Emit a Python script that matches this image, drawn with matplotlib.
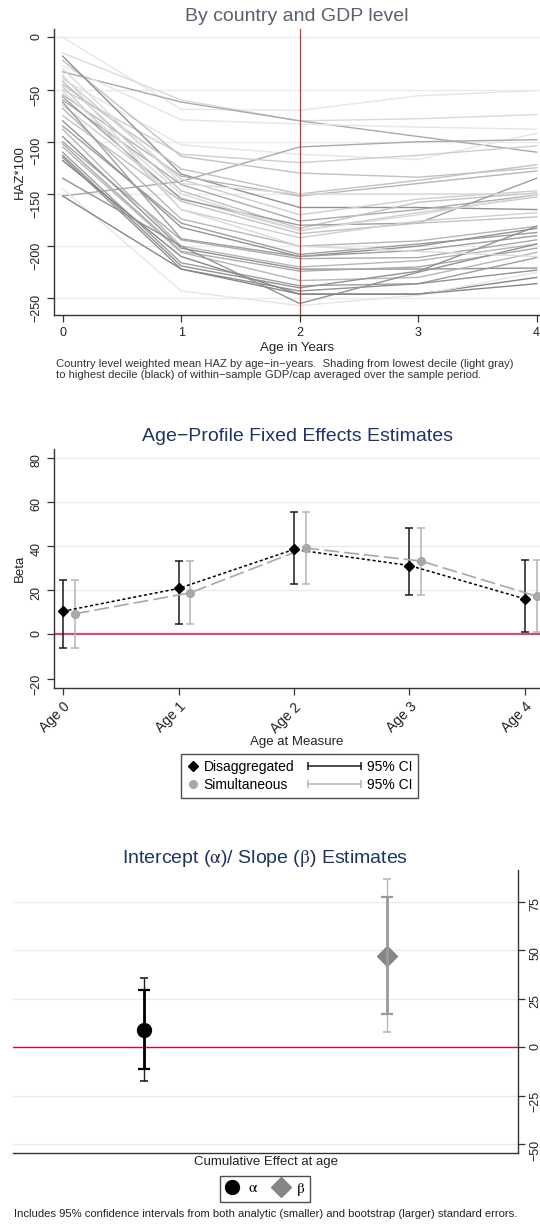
import matplotlib
matplotlib.use('Agg')
import matplotlib.pyplot as plt
from matplotlib.lines import Line2D
from matplotlib.legend_handler import HandlerLine2D, HandlerBase
import numpy as np

plt.rcParams['font.family'] = ['Liberation Sans', 'DejaVu Sans']
plt.rcParams['mathtext.fontset'] = 'stix'

# ---------------- data ----------------
ages = [0, 1, 2, 3, 4]
haz_by_country = [
    [0, -69, -70, -56, -51],
    [-15, -60, -80, -78, -74],
    [-33, -62, -80, -95, -110],
    [-27, -79, -83, -86, -88],
    [-40, -103, -112, -117, -92],
    [-152, -138, -105, -100, -98],
    [-50, -112, -120, -113, -104],
    [-22, -114, -130, -134, -125],
    [-18, -131, -163, -163, -165],
    [-45, -126, -150, -137, -122],
    [-55, -133, -152, -140, -128],
    [-38, -136, -170, -155, -147],
    [-60, -141, -176, -165, -151],
    [-42, -147, -183, -158, -149],
    [-65, -154, -185, -168, -153],
    [-57, -155, -180, -178, -135],
    [-75, -157, -188, -178, -172],
    [-47, -165, -192, -176, -168],
    [-68, -174, -200, -195, -181],
    [-85, -178, -208, -198, -187],
    [-80, -182, -210, -200, -183],
    [-62, -193, -210, -204, -190],
    [-100, -194, -212, -211, -194],
    [-88, -200, -220, -214, -198],
    [-95, -202, -222, -222, -221],
    [-102, -205, -224, -220, -202],
    [-105, -206, -233, -230, -206],
    [-110, -216, -238, -236, -211],
    [-113, -219, -240, -224, -181],
    [-115, -222, -243, -236, -223],
    [-118, -210, -246, -246, -230],
    [-135, -200, -255, -225, -198],
    [-145, -243, -257, -247, -225],
    [-152, -222, -246, -246, -236],
    [-30, -140, -150, -150, -150],
    [-52, -150, -185, -170, -151],
    [-36, -165, -200, -205, -210],
]
gdp_decile = [1, 2, 6, 1, 1, 6, 3, 4, 8, 4, 5, 3, 6, 4, 3, 7, 4, 3, 5, 7,
              8, 7, 6, 5, 8, 6, 5, 7, 8, 8, 9, 8, 1, 9, 2, 2, 2]

age_labels = ['Age 0', 'Age 1', 'Age 2', 'Age 3', 'Age 4']
disagg_beta = [10.5, 20.8, 38.5, 31.2, 16.1]
simult_beta = [9.3, 18.8, 39.1, 33.2, 17.3]
ci_low = [-6.2, 4.9, 22.6, 18.0, 0.9]
ci_high = [24.7, 33.2, 55.5, 48.4, 33.6]

est_labels = [r'$\mathrm{\alpha}$', r'$\mathrm{\beta}$']
est_value = [9.0, 47.2]
analytic_low = [-11.5, 17.2]
analytic_high = [29.4, 77.5]
boot_low = [-17.7, 7.7]
boot_high = [35.8, 87.0]

# ---------------- layout helpers ----------------
W, H = 540, 1224
fig = plt.figure(figsize=(W / 100, H / 100), dpi=100)


def px_axes(l, t, r, b):
    return fig.add_axes([l / W, 1 - b / H, (r - l) / W, (b - t) / H])


TITLE1 = '#5b606e'
NAVY = '#1f3461'
GRID = '#e4ecf0'
TXT = '#222222'


def style_axes(ax):
    for s in ax.spines.values():
        s.set_color('#333333')
        s.set_linewidth(1.0)
    ax.tick_params(colors='#333333', labelcolor=TXT, labelsize=9, length=5, width=0.9)


# ---------------- Panel 1 ----------------
ax1 = px_axes(54, 29, 540, 315)
style_axes(ax1)
ax1.spines['top'].set_visible(False)
ax1.spines['right'].set_visible(False)
ax1.set_xlim(-0.073, 4.028)
ax1.set_ylim(-266, 8)
ax1.set_yticks([0, -50, -100, -150, -200, -250])
ax1.set_xticks(ages)
ax1.tick_params(axis='y', labelrotation=90)
for yv in ax1.get_yticks():
    ax1.axhline(yv, color=GRID, lw=1.0, zorder=0)
for row, dec in zip(haz_by_country, gdp_decile):
    g = 0.9 - (dec - 1) / 9 * 0.42
    ax1.plot(ages, row, color=str(g), lw=1.0, zorder=2)
ax1.axvline(2, color='#cc3333', lw=0.9, zorder=3)
ax1.set_title('By country and GDP level', color=TITLE1, fontsize=14, pad=6)
ax1.set_ylabel('HAZ*100', fontsize=9.5, color=TXT, labelpad=3)
ax1.set_xlabel('Age in Years', fontsize=9.5, color=TXT, labelpad=2)
fig.text(56 / W, 1 - 369.5 / H,
         'Country level weighted mean HAZ by age\u2212in\u2212years.  Shading from lowest decile (light gray)\n'
         'to highest decile (black) of within\u2212sample GDP/cap averaged over the sample period.',
         fontsize=8.1, color='#333333', ha='left', va='center', linespacing=1.05)

# ---------------- Panel 2 ----------------
ax2 = px_axes(54, 449, 540, 688)
style_axes(ax2)
ax2.spines['top'].set_visible(False)
ax2.spines['right'].set_visible(False)
xpos = np.arange(len(age_labels))
ax2.set_xlim(-0.078, 4.13)
ax2.set_ylim(-24.3, 84)
ax2.set_yticks([-20, 0, 20, 40, 60, 80])
ax2.tick_params(axis='y', labelrotation=90)
for yv in [20, 40, 60, 80]:
    ax2.axhline(yv, color=GRID, lw=1.0, zorder=0)
ax2.axhline(0, color='#c9506d', lw=1.6, zorder=1)
ax2.set_xticks(xpos)
ax2.set_xticklabels(age_labels, rotation=45, ha='right', rotation_mode='anchor', fontsize=10)
lo = np.array(ci_low)
hi = np.array(ci_high)
db = np.array(disagg_beta)
sb = np.array(simult_beta)
ax2.errorbar(xpos, db, yerr=[db - lo, hi - db], fmt='none', ecolor='#1a1a1a',
             elinewidth=1.1, capsize=2.8, capthick=1.1, zorder=3)
ax2.errorbar(xpos + 0.1, sb, yerr=[sb - lo, hi - sb], fmt='none', ecolor='#b4b4b4',
             elinewidth=1.1, capsize=2.8, capthick=1.1, zorder=3)
ax2.plot(xpos, db, color='black', ls=(0, (2, 1.6)), lw=1.1, zorder=4)
ax2.plot(xpos + 0.1, sb, color='#a8a8a8', ls=(0, (9, 3)), lw=1.2, zorder=4)
ax2.plot(xpos, db, ls='none', marker='D', ms=5.2, color='black', zorder=5)
ax2.plot(xpos + 0.1, sb, ls='none', marker='o', ms=5.6, color='#a8a8a8', zorder=5)
ax2.set_title('Age\u2212Profile Fixed Effects Estimates', color=NAVY, fontsize=14, pad=6)
ax2.set_ylabel('Beta', fontsize=9.5, color=TXT, labelpad=3)
ax2.set_xlabel('Age at Measure', fontsize=9.5, color=TXT, labelpad=0)


class CIHandler(HandlerBase):
    def __init__(self, extend, **kw):
        super().__init__(**kw)
        self.extend = extend

    def create_artists(self, legend, orig_handle, xdescent, ydescent, width, height,
                       fontsize, trans):
        y = height / 2 - ydescent
        x0 = -xdescent - self.extend
        x1 = -xdescent + width
        ln = Line2D([x0, x1], [y, y], color=orig_handle.get_color(), lw=1.1,
                    marker='|', ms=6, mew=1.1)
        ln.set_transform(trans)
        return [ln]


h_d = Line2D([], [], ls='none', marker='D', ms=5, color='black')
h_s = Line2D([], [], ls='none', marker='o', ms=5.5, color='#a8a8a8')
h_cd = Line2D([], [], color='#1a1a1a')
h_cs = Line2D([], [], color='#b4b4b4')
leg2 = fig.legend([h_d, h_s, h_cd, h_cs],
                  ['Disaggregated', 'Simultaneous', '95% CI', '95% CI'],
                  ncol=2, loc='center', bbox_to_anchor=(299.5 / W, 1 - 776 / H),
                  fontsize=10, frameon=True, fancybox=False, edgecolor='#222222',
                  handlelength=0.8, handletextpad=0.4, columnspacing=4.0,
                  borderpad=0.4, labelspacing=0.3,
                  handler_map={h_d: HandlerLine2D(numpoints=1),
                               h_s: HandlerLine2D(numpoints=1),
                               h_cd: CIHandler(30), h_cs: CIHandler(30)})
leg2.get_frame().set_linewidth(1.0)

# ---------------- Panel 3 ----------------
ax3 = px_axes(13, 870, 518, 1153)
style_axes(ax3)
ax3.spines['top'].set_visible(False)
ax3.spines['left'].set_visible(False)
ax3.yaxis.tick_right()
ax3.set_ylim(-54.6, 91.4)
ax3.set_yticks([-50, -25, 0, 25, 50, 75])
ax3.tick_params(axis='y', labelrotation=90)
ax3.set_xticks([])
ex = np.arange(1, len(est_value) + 1)
ax3.set_xlim(0.4636, 2.537)
for yv in [-50, -25, 25, 50, 75]:
    ax3.axhline(yv, color=GRID, lw=1.0, zorder=0)
ax3.axhline(0, color='#b0143f', lw=1.0, zorder=1)
ev = np.array(est_value)
al, ah = np.array(analytic_low), np.array(analytic_high)
bl, bh = np.array(boot_low), np.array(boot_high)
colors3 = ['black', '#9a9a9a']
boot_colors = ['#222222', '#b8b8b8']
markers3 = ['o', 'D']
mcolors3 = ['black', '#868686']
msizes3 = [10, 10]
for i in range(len(ev)):
    ax3.plot([ex[i]], [ev[i]], ls='none', marker=markers3[i], ms=msizes3[i],
             color=mcolors3[i], zorder=3)
    ax3.errorbar([ex[i]], [ev[i]], yerr=[[ev[i] - bl[i]], [bh[i] - ev[i]]], fmt='none',
                 ecolor=boot_colors[i], elinewidth=1.0, capsize=3.2, capthick=1.2, zorder=4)
    ax3.errorbar([ex[i]], [ev[i]], yerr=[[ev[i] - al[i]], [ah[i] - ev[i]]], fmt='none',
                 ecolor=colors3[i], elinewidth=2.0, capsize=4.0, capthick=1.6, zorder=5)
ax3.set_title(r'Intercept ($\mathrm{\alpha}$)/ Slope ($\mathrm{\beta}$) Estimates',
              color=NAVY, fontsize=14, pad=5)
ax3.set_xlabel('Cumulative Effect at age', fontsize=9.5, color=TXT, labelpad=2)

h_a = Line2D([], [], ls='none', marker='o', ms=10, color='black')
h_b = Line2D([], [], ls='none', marker='D', ms=10, color='#868686')
leg3 = fig.legend([h_a, h_b], est_labels, ncol=2, loc='center',
                  bbox_to_anchor=(265 / W, 1 - 1189 / H), fontsize=11,
                  frameon=True, fancybox=False, edgecolor='#222222',
                  handlelength=1.0, handletextpad=0.5, columnspacing=1.0,
                  borderpad=0.3)
leg3.get_frame().set_linewidth(1.0)

fig.text(266 / W, 1 - 1214 / H,
         'Includes 95% confidence intervals from both analytic (smaller) and bootstrap (larger) standard errors.',
         fontsize=8.1, color='#222222', ha='center', va='center')

fig.savefig('out.png', dpi=100)
